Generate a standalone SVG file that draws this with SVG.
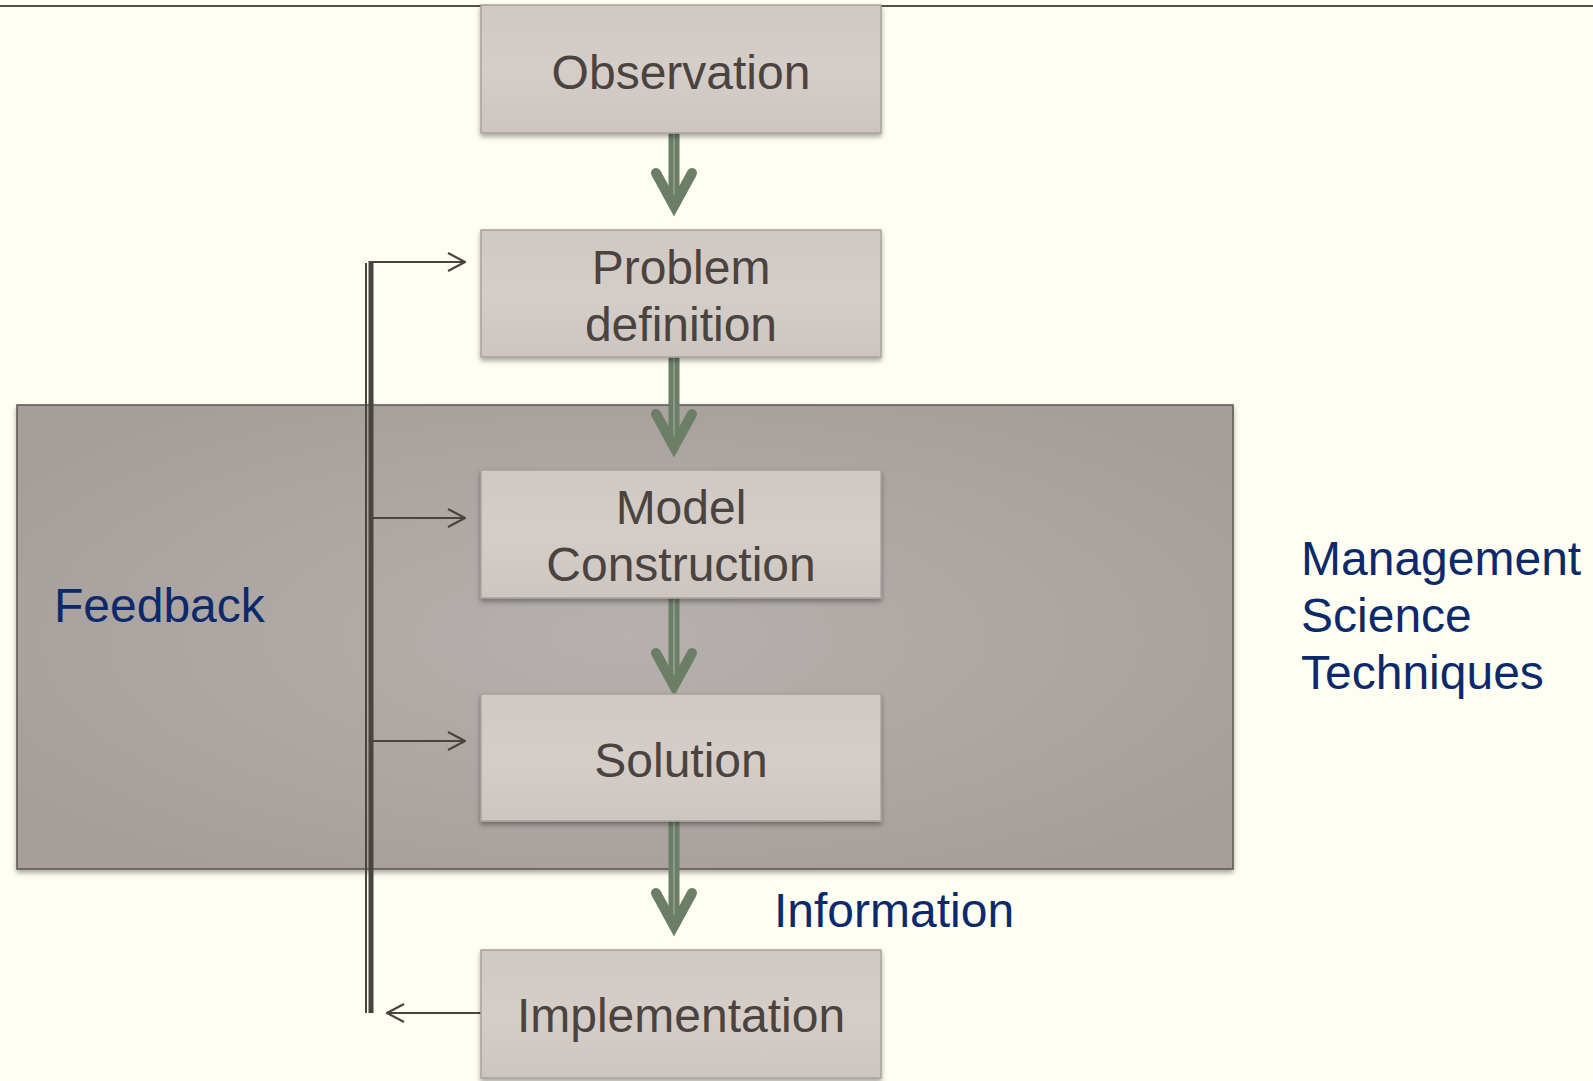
<svg xmlns="http://www.w3.org/2000/svg" width="1593" height="1081" viewBox="0 0 1593 1081">
<style>
.box{fill:url(#boxg);stroke:#a8a19c;stroke-width:1.5;filter:url(#sh)}
.bt{font-family:"Liberation Sans",Arial,sans-serif;font-size:48px;fill:#4a4340;text-anchor:middle}
.lt{font-family:"Liberation Sans",Arial,sans-serif;font-size:48px;fill:#0c2a6b}
.sh1{stroke:#6b7f67;stroke-width:11;fill:none}
.sh2{stroke:#93a38f;stroke-width:1.5;fill:none}
.chev{stroke:#6b7f67;stroke-width:10;fill:none;stroke-linecap:round;stroke-linejoin:miter;stroke-miterlimit:10}
.fb{stroke:#4a4440;stroke-width:2;fill:none}
</style>
<defs>
<linearGradient id="boxg" x1="0" y1="0" x2="0" y2="1">
<stop offset="0" stop-color="#d0c8c3"/>
<stop offset="0.5" stop-color="#d5cdc8"/>
<stop offset="1" stop-color="#cdc5c0"/>
</linearGradient>
<radialGradient id="bigg" cx="0.5" cy="0.5" r="0.6">
<stop offset="0" stop-color="#b6b1ae"/>
<stop offset="1" stop-color="#a69e9b"/>
</radialGradient>
<filter id="sh" x="-5%" y="-5%" width="110%" height="120%">
<feDropShadow dx="0" dy="3" stdDeviation="2.5" flood-color="#000" flood-opacity="0.35"/>
</filter>
<marker id="oa" viewBox="0 0 20 22" refX="19" refY="11" markerWidth="20" markerHeight="22" markerUnits="userSpaceOnUse" orient="auto">
<path d="M2,2 L19,11 L2,20" fill="none" stroke="#4a4440" stroke-width="2.2"/>
</marker>
</defs>
<rect x="0" y="0" width="1593" height="1081" fill="#fefef3"/>
<line x1="0" y1="6" x2="1593" y2="6" stroke="#555049" stroke-width="2"/>
<g id="scope">
<rect x="17" y="405" width="1216" height="464" fill="url(#bigg)" stroke="#5a5550" stroke-width="1.5" filter="url(#sh)"/>
</g>
<g id="connectors">
<line class="sh1" x1="674" y1="133" x2="674" y2="200"/>
<line class="sh2" x1="674" y1="133" x2="674" y2="200"/>
<polyline class="chev" points="656,173 674,206 692,173"/>
<line class="sh1" x1="674" y1="357" x2="674" y2="441"/>
<line class="sh2" x1="674" y1="357" x2="674" y2="441"/>
<polyline class="chev" points="656,414 674,447 692,414"/>
<line class="sh1" x1="674" y1="598" x2="674" y2="680"/>
<line class="sh2" x1="674" y1="598" x2="674" y2="680"/>
<polyline class="chev" points="656,653 674,686 692,653"/>
<line class="sh1" x1="674" y1="821" x2="674" y2="920"/>
<line class="sh2" x1="674" y1="821" x2="674" y2="920"/>
<polyline class="chev" points="656,893 674,926 692,893"/>
<line x1="366" y1="263" x2="366" y2="1013" stroke="#4a4440" stroke-width="2"/>
<line x1="371" y1="261" x2="371" y2="1013" stroke="#4a4440" stroke-width="5"/>
<line class="fb" x1="369" y1="262" x2="465" y2="262" marker-end="url(#oa)"/>
<line class="fb" x1="373" y1="518" x2="465" y2="518" marker-end="url(#oa)"/>
<line class="fb" x1="373" y1="741" x2="465" y2="741" marker-end="url(#oa)"/>
<line class="fb" x1="481" y1="1013" x2="387" y2="1013" marker-end="url(#oa)"/>
</g>
<g id="observation">
<rect class="box" x="481" y="5" width="400" height="128"/>
<text class="bt" x="681" y="89">Observation</text>
</g>
<g id="problem">
<rect class="box" x="481" y="230" width="400" height="127"/>
<text class="bt" x="681" y="284">Problem</text>
<text class="bt" x="681" y="341">definition</text>
</g>
<g id="model">
<rect class="box" x="481" y="470" width="400" height="128"/>
<text class="bt" x="681" y="524">Model</text>
<text class="bt" x="681" y="581">Construction</text>
</g>
<g id="solution">
<rect class="box" x="481" y="694" width="400" height="127"/>
<text class="bt" x="681" y="777">Solution</text>
</g>
<g id="implementation">
<rect class="box" x="481" y="950" width="400" height="128"/>
<text class="bt" x="681" y="1032">Implementation</text>
</g>
<g id="labels">
<text class="lt" x="54" y="622">Feedback</text>
<text class="lt" x="774" y="927">Information</text>
<text class="lt" x="1301" y="575">Management</text>
<text class="lt" x="1301" y="632">Science</text>
<text class="lt" x="1301" y="689">Techniques</text>
</g>
</svg>
